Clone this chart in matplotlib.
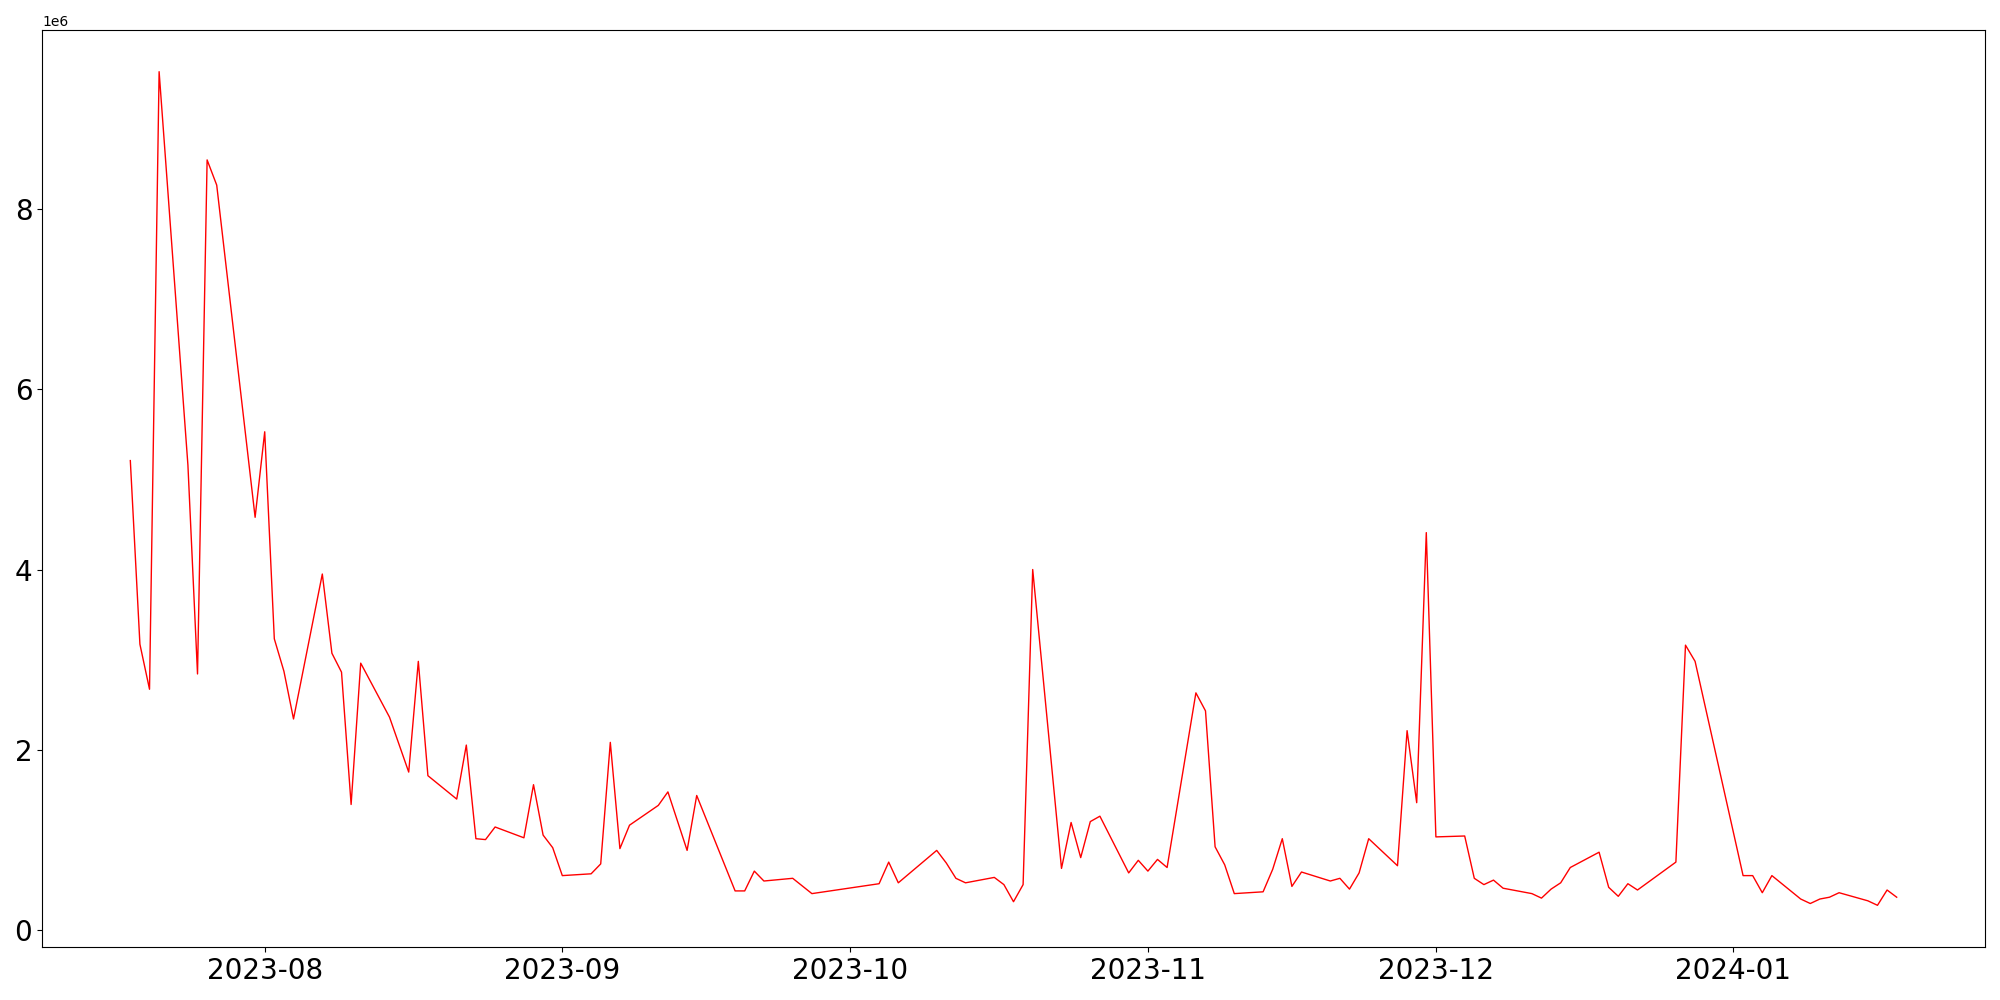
import pandas as pd
import matplotlib
matplotlib.use('Agg')
import matplotlib.pyplot as plt

dates = ['2023-07-18', '2023-07-19', '2023-07-20', '2023-07-21', '2023-07-24', '2023-07-25',
         '2023-07-26', '2023-07-27', '2023-07-31', '2023-08-01', '2023-08-02', '2023-08-03',
         '2023-08-04', '2023-08-07', '2023-08-08', '2023-08-09', '2023-08-10', '2023-08-11',
         '2023-08-14', '2023-08-16', '2023-08-17', '2023-08-18', '2023-08-21', '2023-08-22',
         '2023-08-23', '2023-08-24', '2023-08-25', '2023-08-28', '2023-08-29', '2023-08-30',
         '2023-08-31', '2023-09-01', '2023-09-04', '2023-09-05', '2023-09-06', '2023-09-07',
         '2023-09-08', '2023-09-11', '2023-09-12', '2023-09-14', '2023-09-15', '2023-09-19',
         '2023-09-20', '2023-09-21', '2023-09-22', '2023-09-25', '2023-09-27', '2023-10-04',
         '2023-10-05', '2023-10-06', '2023-10-10', '2023-10-11', '2023-10-12', '2023-10-13',
         '2023-10-16', '2023-10-17', '2023-10-18', '2023-10-19', '2023-10-20', '2023-10-23',
         '2023-10-24', '2023-10-25', '2023-10-26', '2023-10-27', '2023-10-30', '2023-10-31',
         '2023-11-01', '2023-11-02', '2023-11-03', '2023-11-06', '2023-11-07', '2023-11-08',
         '2023-11-09', '2023-11-10', '2023-11-13', '2023-11-14', '2023-11-15', '2023-11-16',
         '2023-11-17', '2023-11-20', '2023-11-21', '2023-11-22', '2023-11-23', '2023-11-24',
         '2023-11-27', '2023-11-28', '2023-11-29', '2023-11-30', '2023-12-01', '2023-12-04',
         '2023-12-05', '2023-12-06', '2023-12-07', '2023-12-08', '2023-12-11', '2023-12-12',
         '2023-12-13', '2023-12-14', '2023-12-15', '2023-12-18', '2023-12-19', '2023-12-20',
         '2023-12-21', '2023-12-22', '2023-12-26', '2023-12-27', '2023-12-28', '2024-01-02',
         '2024-01-03', '2024-01-04', '2024-01-05', '2024-01-08', '2024-01-09', '2024-01-10',
         '2024-01-11', '2024-01-12', '2024-01-15', '2024-01-16', '2024-01-17', '2024-01-18']

# volume in millions
volume_m = [5.21, 3.17, 2.67, 9.53, 5.16, 2.84,
            8.55, 8.27, 4.58, 5.53, 3.23, 2.87,
            2.34, 3.95, 3.07, 2.86, 1.39, 2.96,
            2.36, 1.75, 2.98, 1.71, 1.45, 2.05,
            1.01, 1.00, 1.14, 1.02, 1.61, 1.05,
            0.91, 0.60, 0.62, 0.73, 2.08, 0.90,
            1.16, 1.38, 1.53, 0.88, 1.49, 0.43,
            0.43, 0.65, 0.54, 0.57, 0.40, 0.51,
            0.75, 0.52, 0.88, 0.74, 0.57, 0.52,
            0.58, 0.50, 0.31, 0.50, 4.00, 0.68,
            1.19, 0.80, 1.20, 1.26, 0.63, 0.77,
            0.65, 0.78, 0.69, 2.63, 2.43, 0.92,
            0.72, 0.40, 0.42, 0.67, 1.01, 0.48,
            0.64, 0.54, 0.57, 0.45, 0.63, 1.01,
            0.71, 2.21, 1.41, 4.41, 1.03, 1.04,
            0.57, 0.50, 0.55, 0.46, 0.40, 0.35,
            0.45, 0.52, 0.69, 0.86, 0.47, 0.37,
            0.51, 0.44, 0.75, 3.16, 2.98, 0.60,
            0.60, 0.41, 0.60, 0.34, 0.29, 0.34,
            0.36, 0.41, 0.32, 0.27, 0.44, 0.36]

df = pd.DataFrame({'date': pd.to_datetime(dates), 'volume': [v * 1e6 for v in volume_m]})

fig, ax = plt.subplots(figsize=(20, 10), dpi=100)
ax.plot(df['date'], df['volume'], color='red', linewidth=1)

plt.xticks(fontsize=20)
plt.yticks(fontsize=20)

fig.subplots_adjust(left=0.021, right=0.9925, top=0.97, bottom=0.053)
plt.savefig('out.png')
